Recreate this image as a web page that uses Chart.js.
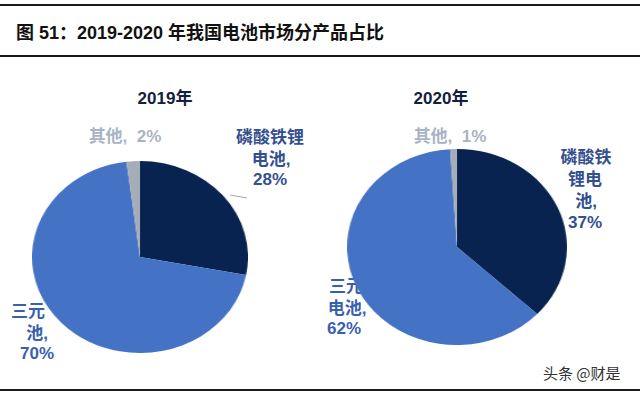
<!DOCTYPE html>
<html>
<head>
<meta charset="utf-8">
<script src="https://cdn.jsdelivr.net/npm/chart.js@4"></script>
<style>
  html, body { margin: 0; padding: 0; background: #fff; }
  #page { position: relative; width: 640px; height: 393px; overflow: hidden; background: #fff;
          font-family: "Liberation Sans", "Noto Sans CJK SC", sans-serif; }
  .rule { position: absolute; left: 0; width: 640px; height: 2px; background: #1b1b1b; }
  #title { position: absolute; left: 16px; top: 23px; font-size: 18px; line-height: 21px;
           font-weight: bold; color: #111; white-space: pre; }
  .yr { position: absolute; font-size: 17px; line-height: 18px; font-weight: bold; color: #13213f;
        transform: translate(-50%, -50%); white-space: pre; }
  .lbl { position: absolute; font-size: 17px; line-height: 20px; font-weight: bold;
         transform: translate(-50%, -50%); white-space: pre; z-index: 1; }
  .pie { position: absolute; z-index: 2; }
  #mark { position: absolute; left: 543px; top: 363px; font-family: "Noto Sans CJK SC", sans-serif;
          font-size: 15px; line-height: 20px; color: #333; }
</style>
</head>
<body>
<div id="page">
  <div class="rule" style="top:4px"></div>
  <div id="title">图 51：2019-2020 年我国电池市场分产品占比</div>
  <div class="rule" style="top:55px"></div>

  <div class="pie" id="wrap1" style="left:44px; top:161px; width:192px; height:192px; transform:scaleX(1.125);">
    <canvas id="pie2019" width="192" height="192"></canvas>
  </div>
  <div class="pie" id="wrap2" style="left:359px; top:149px; width:196px; height:196px; transform:scaleX(1.122);">
    <canvas id="pie2020" width="196" height="196"></canvas>
  </div>

  <svg style="position:absolute; left:0; top:0; z-index:3" width="640" height="393">
    <line x1="230" y1="195" x2="247" y2="198" stroke="#a6a6a6" stroke-width="1"/>
  </svg>

  <div id="mark">头条 @财是</div>
  <div class="rule" style="top:389px"></div>
</div>

<script>
// du lieu doc tu hinh
const categories = ['磷酸铁锂电池', '三元电池', '其他'];
const share2019 = [28, 70, 2];
const share2020 = [37, 62, 1];
const years = ['2019年', '2020年'];

const sliceColors = ['#082350', '#4472c4', '#a5adb8'];
const colLfp = '#34508f';
const colNcm = '#3a5fae';
const colOther = '#a9b3c6';

const page = document.getElementById('page');

function addText(cls, text, x, y, color) {
    const d = document.createElement('div');
    d.className = cls;
    d.textContent = text;
    d.style.left = x + 'px';
    d.style.top = y + 'px';
    if (color) d.style.color = color;
    page.appendChild(d);
}

// tieu de tung nam
addText('yr', years[0], 165, 99);
addText('yr', years[1], 441, 99);

// nhan 2019
addText('lbl', '其他,  ' + share2019[2] + '%', 125, 137, colOther);
addText('lbl', '磷酸铁锂', 270, 138, colLfp);
addText('lbl', '电池,', 271, 160, colLfp);
addText('lbl', share2019[0] + '%', 270, 180, colLfp);
addText('lbl', '三元', 28, 312, colNcm);
addText('lbl', '池,', 37, 334, colNcm);
addText('lbl', share2019[1] + '%', 37, 354, colNcm);

// nhan 2020
addText('lbl', '其他,  ' + share2020[2] + '%', 450, 137, colOther);
addText('lbl', '磷酸铁', 586, 158, colLfp);
addText('lbl', '锂电', 585, 180, colLfp);
addText('lbl', '池,', 586, 202, colLfp);
addText('lbl', share2020[0] + '%', 585, 223, colLfp);
addText('lbl', '三元', 346, 287, colNcm);
addText('lbl', '电池,', 347, 309, colNcm);
addText('lbl', share2020[1] + '%', 344, 329, colNcm);

function vePie(id, values) {
    const ctx = document.getElementById(id).getContext('2d');
    return new Chart(ctx, {
        type: 'pie',
        data: {
            labels: categories,
            datasets: [{
                data: values,
                backgroundColor: sliceColors,
                borderWidth: 0,
                hoverOffset: 0
            }]
        },
        options: {
            responsive: false,
            animation: false,
            rotation: 0,
            layout: { padding: 0 },
            plugins: {
                legend: { display: false },
                tooltip: { enabled: false }
            }
        }
    });
}

vePie('pie2019', share2019);
vePie('pie2020', share2020);
</script>
</body>
</html>
